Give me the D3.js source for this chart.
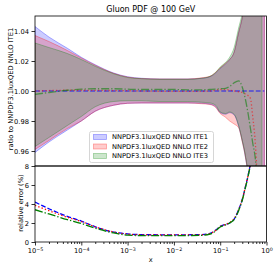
<!DOCTYPE html>
<html>
<head>
<meta charset="utf-8">
<script src="https://cdn.jsdelivr.net/npm/d3@7"></script>
<style>
  body { margin: 0; background: #fff; }
  svg { display: block; }
  text { font-family: "DejaVu Sans", sans-serif; }
</style>
</head>
<body>
<div id="chart"></div>
<script>
// x grid shared by all series
const xGrid = [1e-5, 2e-5, 5e-5, 1e-4, 2e-4, 5e-4, 1e-3, 2e-3, 5e-3, 1e-2, 2e-2, 4e-2, 6e-2, 8e-2,
  0.1, 0.13, 0.16, 0.2, 0.25, 0.3, 0.35, 0.4, 0.45, 0.5, 0.6, 0.7, 0.8, 0.9];

// ITE1 (reference)
const ite1Center = [1, 1, 1, 1, 1, 1, 1, 1, 1, 1, 1, 1, 1, 1, 1, 1, 1, 1, 1, 1, 1, 1, 1, 1, 1, 1, 1, 1];
const ite1Upper = [1.043, 1.036, 1.0285, 1.0225, 1.0175, 1.012, 1.0095, 1.0085, 1.008, 1.008, 1.008, 1.0085, 1.0095, 1.012,
  1.015, 1.018, 1.021, 1.026, 1.039, 1.049, 1.062, 1.08, 1.10, 1.12, 1.20, 1.30, 1.45, 1.60];
const ite1Lower = [0.959, 0.966, 0.974, 0.980, 0.9865, 0.9905, 0.9918, 0.992, 0.992, 0.992, 0.992, 0.9918, 0.9912, 0.9895,
  0.9855, 0.9845, 0.9855, 0.984, 0.9765, 0.9665, 0.956, 0.943, 0.92, 0.90, 0.82, 0.72, 0.58, 0.40];
const ite1Err = [4.2, 3.5, 2.7, 2.2, 1.6, 1.05, 0.85, 0.78, 0.76, 0.76, 0.76, 0.78, 0.9, 1.25,
  1.65, 1.85, 2.0, 2.4, 3.4, 4.5, 5.8, 7.0, 8.3, 10, 15, 22, 32, 45];

// ITE2
const ite2Center = [1.0, 1.0003, 1.0005, 1.0005, 1.0004, 1.0003, 1.0002, 1.0, 0.9998, 0.9997, 0.9998, 0.9998, 1.0, 1.0005,
  1.001, 1.001, 1.0005, 1.0, 0.9995, 0.999, 0.998, 0.997, 0.995, 0.984, 0.955, 0.90, 0.85, 0.80];
const ite2Upper = [1.037, 1.033, 1.027, 1.022, 1.0172, 1.0118, 1.0093, 1.0083, 1.008, 1.008, 1.008, 1.0088, 1.0098, 1.0125,
  1.0155, 1.0185, 1.021, 1.026, 1.039, 1.049, 1.062, 1.08, 1.10, 1.12, 1.20, 1.30, 1.45, 1.60];
const ite2Lower = [0.961, 0.967, 0.975, 0.980, 0.9865, 0.9905, 0.9918, 0.992, 0.992, 0.992, 0.992, 0.9915, 0.991, 0.989,
  0.985, 0.9825, 0.980, 0.978, 0.9755, 0.966, 0.956, 0.943, 0.92, 0.90, 0.82, 0.72, 0.58, 0.40];
const ite2Err = [3.85, 3.3, 2.6, 2.15, 1.6, 1.05, 0.82, 0.76, 0.74, 0.74, 0.74, 0.76, 0.88, 1.22,
  1.62, 1.85, 2.05, 2.45, 3.4, 4.5, 5.8, 7.0, 8.3, 10, 15, 22, 32, 45];

// ITE3
const ite3Center = [0.9978, 0.999, 1.0005, 1.0012, 1.0015, 1.0015, 1.0012, 1.001, 1.001, 1.001, 1.0008, 1.0008, 1.001, 1.0012,
  1.0015, 1.0018, 1.003, 1.0055, 1.0068, 1.0025, 0.9945, 0.985, 0.975, 0.966, 0.948, 0.90, 0.85, null];
const ite3Upper = [1.032, 1.029, 1.025, 1.021, 1.0165, 1.0115, 1.009, 1.0082, 1.0078, 1.0078, 1.0078, 1.0085, 1.0098, 1.0125,
  1.016, 1.019, 1.0225, 1.029, 1.042, 1.052, 1.065, 1.08, 1.10, 1.12, 1.20, 1.30, 1.45, null];
const ite3Lower = [0.963, 0.969, 0.977, 0.983, 0.9895, 0.993, 0.9935, 0.9935, 0.993, 0.993, 0.993, 0.9925, 0.992, 0.9905,
  0.986, 0.985, 0.986, 0.9845, 0.977, 0.967, 0.957, 0.944, 0.92, 0.90, 0.82, 0.72, 0.58, null];
const ite3Err = [3.4, 2.95, 2.35, 1.95, 1.45, 0.95, 0.72, 0.68, 0.68, 0.68, 0.68, 0.7, 0.82, 1.18,
  1.58, 1.8, 2.0, 2.35, 3.3, 4.4, 5.7, 6.9, 8.2, 10, 15, 22, 32, null];

const seriesNames = ["NNPDF3.1luxQED NNLO ITE1", "NNPDF3.1luxQED NNLO ITE2", "NNPDF3.1luxQED NNLO ITE3"];
const xTicks = [1e-5, 1e-4, 1e-3, 1e-2, 1e-1, 1];
const xTickExp = ["\u22125", "\u22124", "\u22123", "\u22122", "\u22121", "0"];
const ratioTicks = [0.96, 0.98, 1.00, 1.02, 1.04];
const errTicks = [0, 2, 4, 6, 8];
const titleText = "Gluon PDF @ 100 GeV";

const series = [
  {name: seriesNames[0], center: ite1Center, lower: ite1Lower, upper: ite1Upper, err: ite1Err, color: "#0000ff", dash: "4.8,2.1"},
  {name: seriesNames[1], center: ite2Center, lower: ite2Lower, upper: ite2Upper, err: ite2Err, color: "#ff0000", dash: "1.3,2.2"},
  {name: seriesNames[2], center: ite3Center, lower: ite3Lower, upper: ite3Upper, err: ite3Err, color: "#008000", dash: "8,2,1.3,2"}
];

const width = 279, height = 269;
const plotLeft = 35, plotRight = 266.5, plotTop = 16, plotMid = 166, plotBottom = 242;
const fs = 6.7;

const svg = d3.select("#chart").append("svg")
  .attr("width", width).attr("height", height);

const x = d3.scaleLog().domain([1e-5, 1]).range([plotLeft, plotRight]);
const yRatio = d3.scaleLinear().domain([0.95, 1.05]).range([plotMid, plotTop]);
const yErr = d3.scaleLinear().domain([0, 8]).range([plotBottom, plotMid]);

const defs = svg.append("defs");
defs.append("clipPath").attr("id", "clipTop").append("rect")
  .attr("x", plotLeft).attr("y", plotTop).attr("width", plotRight - plotLeft).attr("height", plotMid - plotTop);
defs.append("clipPath").attr("id", "clipBot").append("rect")
  .attr("x", plotLeft).attr("y", plotMid).attr("width", plotRight - plotLeft).attr("height", plotBottom - plotMid);

const gTop = svg.append("g").attr("clip-path", "url(#clipTop)");
const gBot = svg.append("g").attr("clip-path", "url(#clipBot)");

// bands in the ratio panel
series.forEach(s => {
  const pts = xGrid.map((xv, i) => ({x: xv, lo: s.lower[i], hi: s.upper[i]}));
  const area = d3.area()
    .defined(d => d.lo != null && d.hi != null)
    .x(d => x(d.x))
    .y0(d => yRatio(d.lo))
    .y1(d => yRatio(d.hi))
    .curve(d3.curveMonotoneX);
  gTop.append("path")
    .attr("d", area(pts))
    .attr("fill", s.color).attr("fill-opacity", 0.2)
    .attr("stroke", s.color).attr("stroke-opacity", 0.35).attr("stroke-width", 0.9);
});

// central lines in the ratio panel
series.forEach(s => {
  const pts = xGrid.map((xv, i) => ({x: xv, y: s.center[i]}));
  const line = d3.line()
    .defined(d => d.y != null)
    .x(d => x(d.x)).y(d => yRatio(d.y))
    .curve(d3.curveMonotoneX);
  gTop.append("path")
    .attr("d", line(pts))
    .attr("fill", "none")
    .attr("stroke", s.color).attr("stroke-opacity", 0.55)
    .attr("stroke-width", 1.3).attr("stroke-dasharray", s.dash);
});

// relative error lines
series.forEach(s => {
  const pts = xGrid.map((xv, i) => ({x: xv, y: s.err[i]}));
  const line = d3.line()
    .defined(d => d.y != null)
    .x(d => x(d.x)).y(d => yErr(d.y))
    .curve(d3.curveMonotoneX);
  gBot.append("path")
    .attr("d", line(pts))
    .attr("fill", "none")
    .attr("stroke", s.color)
    .attr("stroke-width", 1.3).attr("stroke-dasharray", s.dash);
});

// axes
function styleAxis(g) {
  g.select(".domain").remove();
  g.selectAll(".tick line").attr("stroke", "#000").attr("stroke-width", 0.8);
  g.selectAll("text").attr("font-size", fs).attr("fill", "#000")
    .attr("font-family", "DejaVu Sans, sans-serif");
  g.attr("font-size", null).attr("font-family", null);
}

svg.append("g")
  .attr("transform", "translate(" + plotLeft + ",0)")
  .call(d3.axisLeft(yRatio).tickValues(ratioTicks).tickFormat(d3.format(".2f")).tickSize(3.5).tickPadding(2.5))
  .call(styleAxis);

svg.append("g")
  .attr("transform", "translate(" + plotLeft + ",0)")
  .call(d3.axisLeft(yErr).tickValues(errTicks).tickFormat(d3.format("d")).tickSize(3.5).tickPadding(2.5))
  .call(styleAxis);

const minorTicks = x.ticks().filter(v => xTicks.indexOf(v) < 0);
svg.append("g")
  .attr("transform", "translate(0," + plotBottom + ")")
  .call(d3.axisBottom(x).tickValues(minorTicks).tickFormat("").tickSize(2))
  .call(styleAxis);

svg.append("g")
  .attr("transform", "translate(0," + plotBottom + ")")
  .call(d3.axisBottom(x).tickValues(xTicks).tickSize(3.5).tickPadding(3))
  .call(styleAxis)
  .selectAll(".tick text")
  .each(function(d, i) {
    const t = d3.select(this);
    t.text("10");
    t.append("tspan").attr("dy", "-0.45em").attr("font-size", 4.8).text(xTickExp[i]);
  });

// frames
svg.append("rect").attr("x", plotLeft).attr("y", plotTop).attr("width", plotRight - plotLeft).attr("height", plotMid - plotTop)
  .attr("fill", "none").attr("stroke", "#000").attr("stroke-width", 0.8);
svg.append("rect").attr("x", plotLeft).attr("y", plotMid).attr("width", plotRight - plotLeft).attr("height", plotBottom - plotMid)
  .attr("fill", "none").attr("stroke", "#000").attr("stroke-width", 0.8);

// titles and labels
svg.append("text").attr("x", (plotLeft + plotRight) / 2).attr("y", 12)
  .attr("text-anchor", "middle").attr("font-size", 8).text(titleText);
svg.append("text").attr("transform", "translate(12.5," + 89 + ") rotate(-90)")
  .attr("text-anchor", "middle").attr("font-size", fs).text("ratio to " + seriesNames[0]);
svg.append("text").attr("transform", "translate(22.5," + 203 + ") rotate(-90)")
  .attr("text-anchor", "middle").attr("font-size", fs).text("relative error (%)");
svg.append("text").attr("x", (plotLeft + plotRight) / 2).attr("y", 262)
  .attr("text-anchor", "middle").attr("font-size", fs).text("x");

// legend
const lg = svg.append("g").attr("transform", "translate(89.5,131.5)");
lg.append("rect").attr("width", 124).attr("height", 31).attr("rx", 2)
  .attr("fill", "#fff").attr("fill-opacity", 0.8)
  .attr("stroke", "#ccc").attr("stroke-width", 0.8);
series.forEach((s, i) => {
  const cy = 5.5 + i * 9.5;
  lg.append("rect").attr("x", 4).attr("y", cy - 2.5).attr("width", 13).attr("height", 5)
    .attr("fill", s.color).attr("fill-opacity", 0.2)
    .attr("stroke", s.color).attr("stroke-opacity", 0.35).attr("stroke-width", 0.8);
  lg.append("text").attr("x", 22.5).attr("y", cy + 2.4).attr("font-size", fs).text(s.name);
});
</script>
</body>
</html>
